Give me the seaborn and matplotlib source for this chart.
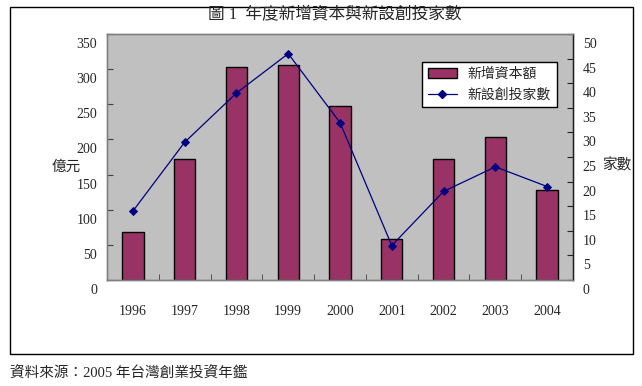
import numpy as np
import pandas as pd
import matplotlib
matplotlib.use("Agg")
import matplotlib.pyplot as plt
from matplotlib.patches import Patch, Rectangle
from matplotlib.lines import Line2D
from matplotlib.transforms import ScaledTranslation
import seaborn as sns

# data
years = ["1996", "1997", "1998", "1999", "2000", "2001", "2002", "2003", "2004"]
new_capital = [68, 172, 303, 306, 247, 59, 172, 204, 128]   # 億元
new_firms = [14, 28, 38, 46, 32, 7, 18, 23, 19]               # 家數

left_ticks = [0, 50, 100, 150, 200, 250, 300, 350]
right_ticks = [0, 5, 10, 15, 20, 25, 30, 35, 40, 45, 50]

sns.set_style("ticks")
plt.rcParams["font.family"] = ["Liberation Serif", "Noto Sans CJK TC"]

df = pd.DataFrame({"year": years, "capital": new_capital, "firms": new_firms})

fig = plt.figure(figsize=(6.42, 3.86), dpi=100)
ax = fig.add_axes([107 / 642, 1 - 280 / 386, 466 / 642, 246 / 386])
ax.set_facecolor("#c0c0c0")

sns.barplot(data=df, x="year", y="capital", ax=ax, color="#993366",
            width=0.41, edgecolor="black", linewidth=1, saturation=1)

ax2 = ax.twinx()
sns.pointplot(data=df, x="year", y="firms", ax=ax2, color="#000080",
              markers="D", linewidth=0.9, markersize=4.5)

ax.set_xlim(-0.5, len(years) - 0.5)
ax2.set_xlim(-0.5, len(years) - 0.5)
ax.set_ylim(0, 350)
ax2.set_ylim(0, 50)
ax.set_yticks(left_ticks)
ax2.set_yticks(right_ticks)

# x ticks: labels at categories, small marks between categories
ax.set_xticks(range(len(years)))
ax.set_xticklabels(years, fontsize=10)
ax.set_xticks(np.arange(-0.5, len(years), 1), minor=True)
ax.tick_params(axis="x", which="major", length=0, pad=18)
ax.tick_params(axis="x", which="minor", length=4, direction="in", color="#404040")
ax.set_xlabel("")

ax.tick_params(axis="y", direction="in", length=4, pad=7, labelsize=10, color="#404040")
ax2.tick_params(axis="y", direction="in", length=4, pad=7, labelsize=10, color="#202020")

# Excel-style: tick labels sit a bit below their tick
shift = ScaledTranslation(0, -0.09, fig.dpi_scale_trans)
for lab in ax.get_yticklabels() + ax2.get_yticklabels():
    lab.set_transform(lab.get_transform() + shift)

ax.set_ylabel("億元", rotation=0, fontsize=10.5, va="center", ha="center")
ax.yaxis.set_label_coords(-0.088, 0.46)
ax2.set_ylabel("家數", rotation=0, fontsize=10.5, va="center", ha="center")
ax2.yaxis.set_label_coords(1.094, 0.467)

for a in (ax, ax2):
    for s in a.spines.values():
        s.set_color("#808080")
        s.set_linewidth(1)
ax2.spines["right"].set_color("#202020")

handles = [Patch(facecolor="#993366", edgecolor="black", linewidth=1),
           Line2D([0], [0], color="#000080", marker="D", markersize=4.5, linewidth=0.9)]
leg = ax2.legend(handles, ["新增資本額", "新設創投家數"], loc="upper left",
                 bbox_to_anchor=(0.676, 0.886), borderaxespad=0, fontsize=10,
                 frameon=True, fancybox=False, edgecolor="black",
                 handlelength=2.1, handletextpad=0.8, labelspacing=0.55,
                 borderpad=0.4)
leg.get_frame().set_linewidth(1)
leg.get_frame().set_facecolor("white")
leg.get_frame().set_alpha(1)

fig.text(0.521, 1 - 14 / 386, "圖 1  年度新增資本與新設創投家數", ha="center", va="center",
         fontsize=12)

fig.patches.append(Rectangle((10 / 642, 1 - 354 / 386), 623 / 642, 347 / 386,
                             transform=fig.transFigure, fill=False,
                             edgecolor="black", linewidth=1))

fig.text(10 / 642, 1 - 374 / 386, "資料來源：2005 年台灣創業投資年鑑", ha="left",
         va="center", fontsize=10.5)

fig.savefig("out.png", dpi=100)
